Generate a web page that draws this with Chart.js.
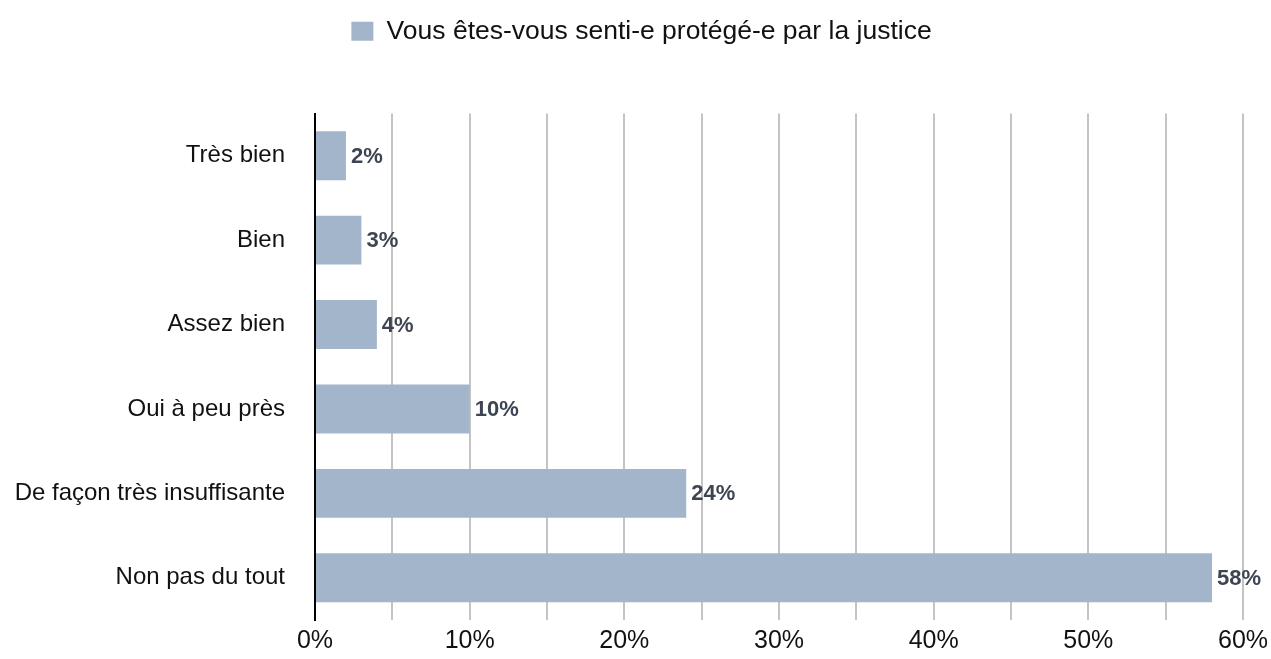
<!DOCTYPE html>
<html lang="fr">
<head>
  <meta charset="UTF-8" />
  <title>Vous êtes-vous senti-e protégé-e par la justice</title>
  <script src="https://cdn.jsdelivr.net/npm/chart.js"></script>
  <style>
    html, body { margin: 0; padding: 0; background: #fff; }
    #wrap { width: 1271px; height: 659px; }
  </style>
</head>
<body>
  <div id="wrap"><canvas id="chart"></canvas></div>

  <script>
    const categories = ['Très bien', 'Bien', 'Assez bien', 'Oui à peu près', 'De façon très insuffisante', 'Non pas du tout'];
    const values = [2, 3, 4, 10, 24, 58];
    const seriesLabel = 'Vous êtes-vous senti-e protégé-e par la justice';
    const tickLabels = ['0%', '10%', '20%', '30%', '40%', '50%', '60%'];

    const FONT = '"Liberation Sans", Arial, sans-serif';

    // draws the "xx%" values at the end of each bar
    const valueLabels = {
      id: 'valueLabels',
      afterDatasetsDraw(chart) {
        const ctx = chart.ctx;
        const meta = chart.getDatasetMeta(0);
        ctx.save();
        ctx.font = 'bold 22px ' + FONT;
        ctx.fillStyle = '#3e4552';
        ctx.textBaseline = 'middle';
        ctx.textAlign = 'left';
        meta.data.forEach((bar, i) => {
          ctx.fillText(values[i] + '%', bar.x + 5, bar.y + 1);
        });
        ctx.restore();
      }
    };

    // extra room between the legend and the plot
    const legendGap = {
      id: 'legendGap',
      beforeInit(chart) {
        const fit = chart.legend.fit;
        chart.legend.fit = function () {
          fit.bind(chart.legend)();
          this.height += 59;
        };
      }
    };

    new Chart(document.getElementById('chart'), {
      type: 'bar',
      data: {
        labels: categories,
        datasets: [{
          label: seriesLabel,
          data: values,
          backgroundColor: '#a2b5cb',
          borderWidth: 0,
          categoryPercentage: 1,
          barPercentage: 0.58
        }]
      },
      options: {
        indexAxis: 'y',
        responsive: true,
        maintainAspectRatio: false,
        animation: false,
        layout: { padding: { left: 12, right: 0, top: 8, bottom: 0 } },
        plugins: {
          legend: {
            position: 'top',
            labels: {
              color: '#111',
              font: { family: FONT, size: 26.5 },
              boxWidth: 22,
              boxHeight: 19,
              padding: 10
            }
          },
          tooltip: { enabled: false }
        },
        scales: {
          x: {
            min: 0,
            max: 60,
            afterFit: (s) => { s.height = 39; s.paddingRight = 28; },
            ticks: {
              stepSize: 5,
              autoSkip: false,
              maxRotation: 0,
              color: '#111',
              padding: 6,
              font: { family: FONT, size: 25 },
              callback: (v) => (v % 10 === 0 ? tickLabels[v / 10] : '')
            },
            grid: { color: '#c4c4c4', lineWidth: 2, drawTicks: false },
            border: { display: false }
          },
          y: {
            afterFit: (s) => { s.width = 303; s.paddingTop = 0; s.paddingBottom = 0; },
            ticks: {
              color: '#111',
              padding: 30,
              font: { family: FONT, size: 24 }
            },
            grid: { display: false, drawTicks: false },
            border: { display: true, color: '#000', width: 2 }
          }
        }
      },
      plugins: [valueLabels, legendGap]
    });
  </script>
</body>
</html>
